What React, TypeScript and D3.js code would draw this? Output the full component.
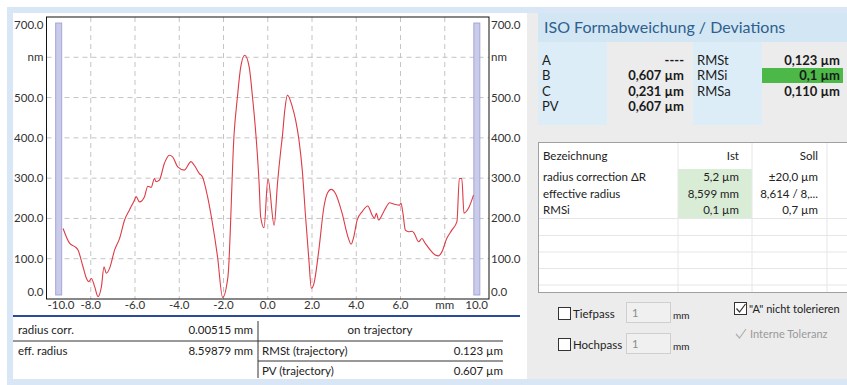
import { useEffect, useRef } from "react";
import * as d3 from "d3";

// profile of the measured form deviation (x in mm, deviation in nm)
const profileX = [
  -9.25, -8.95, -8.72, -8.58, -8.35, -8.2, -8.09, -7.97, -7.82, -7.67, -7.52, -7.4, -7.3, -7.15,
  -6.92, -6.7, -6.47, -6.25, -6.02, -5.95, -5.8, -5.57, -5.42, -5.27, -5.12, -5.05, -4.9, -4.67,
  -4.45, -4.3, -4.07, -3.77, -3.47, -3.32, -3.1, -2.95, -2.72, -2.5, -2.27, -2.04, -1.8, -1.52,
  -1.37, -1.22, -1.04, -0.84, -0.69, -0.54, -0.39, -0.32, -0.17, 0.01, 0.29, 0.44, 0.59, 0.66,
  0.77, 0.89, 1.11, 1.26, 1.41, 1.56, 1.71, 1.86, 1.97, 2.09, 2.31, 2.54, 2.69, 2.87, 3.06, 3.36,
  3.62, 3.77, 3.89, 4.04, 4.27, 4.52, 4.72, 4.82, 4.91, 5.01, 5.16, 5.32, 5.51, 5.69, 5.96, 6.02,
  6.11, 6.22, 6.37, 6.52, 6.62, 6.82, 6.97, 7.12, 7.34, 7.57, 7.72, 7.87, 8.09, 8.32, 8.55, 8.66,
  8.77, 8.87, 9.07, 9.3,
];
const profileNm = [
  175, 138, 130, 122, 80, 52, 43, 51, 30, 6, 30, 80, 64, 76,
  122, 150, 196, 221, 246, 254, 241, 254, 280, 277, 299, 291, 295, 337,
  357, 353, 328, 320, 341, 332, 312, 303, 254, 188, 105, 4, 55, 411,
  502, 576, 605, 576, 502, 411, 287, 204, 177, 299, 183, 287, 370, 403,
  469, 506, 477, 444, 395, 320, 204, 97, 27, 39, 122, 229, 262, 272, 262, 213,
  155, 136, 155, 196, 217, 231, 208, 200, 213, 196, 208, 225, 239, 236, 233, 238,
  213, 171, 167, 168, 163, 142, 150, 138, 122, 109, 107, 117, 150, 171, 192, 299,
  299, 213, 225, 258,
];

const xTicks = [-10, -8, -6, -4, -2, 0, 2, 4, 6, 8, 10];
const xTickLabels = ["-10.0", "-8.0", "-6.0", "-4.0", "-2.0", "0.0", "2.0", "4.0", "6.0", "mm", "10.0"];
const yTicks = [0, 100, 200, 300, 400, 500, 600, 700];
const yTickLabels = ["0.0", "100.0", "200.0", "300.0", "400.0", "500.0", "nm", "700.0"];

// evaluation range markers
const rangeMarkersX = [-9.45, 9.45];
const rangeMarkerNm = [10, 685];

const formLabels = ["A", "B", "C", "PV"];
const formValues = ["----", "0,607 µm", "0,231 µm", "0,607 µm"];
const rmsLabels = ["RMSt", "RMSi", "RMSa"];
const rmsValues = ["0,123 µm", "0,1 µm", "0,110 µm"];

const tableHeader = ["Bezeichnung", "Ist", "Soll"];
const tableNames = ["radius correction ΔR", "effective radius", "RMSi"];
const tableIst = ["5,2 µm", "8,599 mm", "0,1 µm"];
const tableSoll = ["±20,0 µm", "8,614 / 8,...", "0,7 µm"];

const resultLeft = [["radius corr.", "0.00515 mm"], ["eff. radius", "8.59879 mm"]];
const resultRight = [["RMSt (trajectory)", "0.123 µm"], ["PV (trajectory)", "0.607 µm"]];

const FONT = "Lato, 'Noto Sans', sans-serif";

function App() {
  const ref = useRef<SVGSVGElement | null>(null);

  useEffect(() => {
    drawChart();
  }, []);

  function drawChart() {
    const W = 847, H = 385;
    const plot = { left: 46.5, right: 489, top: 17, bottom: 299 };

    const svg = d3.select(ref.current);
    svg.selectAll("*").remove();
    svg.attr("width", W).attr("height", H).style("font-family", FONT);

    // frames / backgrounds
    svg.append("rect").attr("width", W).attr("height", H).attr("fill", "#ffffff");
    svg.append("rect").attr("x", 7).attr("y", 7).attr("width", W - 7).attr("height", H - 7).attr("fill", "#d9e6f5");
    svg.append("rect").attr("x", 13).attr("y", 13).attr("width", 514).attr("height", 366).attr("fill", "#ffffff");
    svg.append("rect").attr("x", 527).attr("y", 13).attr("width", W - 527).attr("height", 366).attr("fill", "#ececec");

    const x = d3.scaleLinear().domain([-10, 10]).range([plot.left, plot.right]);
    const y = d3.scaleLinear().domain([0, 700]).range([plot.bottom, plot.top]);

    const g = svg.append("g");

    // grid
    g.append("g")
      .selectAll("line")
      .data(xTicks.filter((d) => d > -10 && d < 10))
      .join("line")
      .attr("x1", (d) => x(d)).attr("x2", (d) => x(d))
      .attr("y1", plot.top).attr("y2", plot.bottom)
      .attr("stroke", "#c4c4c4").attr("stroke-dasharray", "5,4");
    g.append("g")
      .selectAll("line")
      .data(yTicks.filter((d) => d > 0 && d < 700))
      .join("line")
      .attr("x1", plot.left).attr("x2", plot.right)
      .attr("y1", (d) => y(d)).attr("y2", (d) => y(d))
      .attr("stroke", "#c4c4c4").attr("stroke-dasharray", "5,4");

    // range markers
    g.append("g")
      .selectAll("rect")
      .data(rangeMarkersX)
      .join("rect")
      .attr("x", (d) => x(d) - 3)
      .attr("width", 6)
      .attr("y", y(rangeMarkerNm[1]))
      .attr("height", y(rangeMarkerNm[0]) - y(rangeMarkerNm[1]))
      .attr("fill", "#c9cbe9").attr("stroke", "#a3a7d6");

    // profile line
    const pts: [number, number][] = profileX.map((d, i) => [d, profileNm[i]]);
    g.append("path")
      .datum(pts)
      .attr("fill", "none")
      .attr("stroke", "#dd3b46")
      .attr("stroke-width", 1.1)
      .attr("d", d3.line<[number, number]>().x((d) => x(d[0])).y((d) => y(d[1])).curve(d3.curveMonotoneX));

    // plot border
    g.append("rect")
      .attr("x", plot.left).attr("y", plot.top)
      .attr("width", plot.right - plot.left).attr("height", plot.bottom - plot.top)
      .attr("fill", "none").attr("stroke", "#111");

    // y labels, both sides
    const yLab = (d: number) => (d === 700 ? y(d) + 8 : d === 0 ? y(d) - 7 : y(d));
    [
      { xp: plot.left - 3, anchor: "end" },
      { xp: plot.right + 2, anchor: "start" },
    ].forEach((side) => {
      g.append("g")
        .selectAll("text")
        .data(yTicks)
        .join("text")
        .attr("x", side.xp)
        .attr("y", (d) => yLab(d))
        .attr("dy", "0.35em")
        .attr("text-anchor", side.anchor)
        .attr("font-size", 11.5)
        .attr("fill", "#333")
        .text((d, i) => yTickLabels[i]);
    });

    // x labels
    g.append("g")
      .selectAll("text")
      .data(xTicks)
      .join("text")
      .attr("x", (d) => (d === -10 ? x(d) + 1 : d === 10 ? x(d) - 1 : x(d)))
      .attr("y", plot.bottom + 10)
      .attr("text-anchor", (d) => (d === -10 ? "start" : d === 10 ? "end" : "middle"))
      .attr("font-size", 11.5)
      .attr("fill", "#333")
      .text((d, i) => xTickLabels[i]);

    // result table under the chart
    svg.append("line").attr("x1", 13).attr("x2", 520).attr("y1", 316).attr("y2", 316)
      .attr("stroke", "#2b4a9c").attr("stroke-width", 2);
    const res = svg.append("g").attr("font-size", 11.5).attr("fill", "#222");
    resultLeft.forEach((r, i) => {
      const yy = 334 + i * 21;
      res.append("text").attr("x", 18).attr("y", yy).text(r[0]);
      res.append("text").attr("x", 253).attr("y", yy).attr("text-anchor", "end").text(r[1]);
    });
    res.append("text").attr("x", 380).attr("y", 334).attr("text-anchor", "middle").text("on trajectory");
    resultRight.forEach((r, i) => {
      const yy = 355 + i * 20;
      res.append("text").attr("x", 262).attr("y", yy).text(r[0]);
      res.append("text").attr("x", 503).attr("y", yy).attr("text-anchor", "end").text(r[1]);
    });
    res.append("line").attr("x1", 13).attr("x2", 503).attr("y1", 341).attr("y2", 341).attr("stroke", "#333");
    res.append("line").attr("x1", 258).attr("x2", 503).attr("y1", 361).attr("y2", 361).attr("stroke", "#333");
    res.append("line").attr("x1", 258).attr("x2", 258).attr("y1", 321).attr("y2", 378).attr("stroke", "#333");

    // right panel: header
    const rp = svg.append("g");
    rp.append("rect").attr("x", 538).attr("y", 13).attr("width", W - 538).attr("height", 29).attr("fill", "#d3e6f3");
    rp.append("text").attr("x", 544).attr("y", 33).attr("font-size", 16).attr("fill", "#2e5f8e")
      .text("ISO Formabweichung / Deviations");
    rp.append("rect").attr("x", 538).attr("y", 42).attr("width", 69).attr("height", 83).attr("fill", "#dcedf8");
    rp.append("rect").attr("x", 693).attr("y", 42).attr("width", 69).attr("height", 83).attr("fill", "#dcedf8");
    rp.append("rect").attr("x", 762).attr("y", 68).attr("width", 81).attr("height", 15).attr("fill", "#4cb848");

    const rowY = (i: number) => 65 + i * 15.3;
    formLabels.forEach((l, i) => {
      rp.append("text").attr("x", 542).attr("y", rowY(i)).attr("font-size", 13).attr("fill", "#1a1a1a").text(l);
      rp.append("text").attr("x", 684).attr("y", rowY(i)).attr("font-size", 13).attr("font-weight", "bold")
        .attr("text-anchor", "end").attr("fill", "#1a1a1a").text(formValues[i]);
    });
    rmsLabels.forEach((l, i) => {
      rp.append("text").attr("x", 697).attr("y", rowY(i)).attr("font-size", 13).attr("fill", "#1a1a1a").text(l);
      rp.append("text").attr("x", 840).attr("y", rowY(i)).attr("font-size", 13).attr("font-weight", "bold")
        .attr("text-anchor", "end").attr("fill", "#1a1a1a").text(rmsValues[i]);
    });

    // tolerance table
    const tb = svg.append("g").attr("font-size", 11.5).attr("fill", "#222");
    tb.append("rect").attr("x", 538.5).attr("y", 142.5).attr("width", 330).attr("height", 150)
      .attr("fill", "#fff").attr("stroke", "#a0a0a0");
    tb.append("rect").attr("x", 678).attr("y", 169).attr("width", 74).attr("height", 50).attr("fill", "#d9edd6");
    [678, 752, 827].forEach((cx) => {
      tb.append("line").attr("x1", cx).attr("x2", cx).attr("y1", 143).attr("y2", 292).attr("stroke", "#e6e6e6");
    });
    [218.5, 235.5, 252, 268.5, 285].forEach((ry) => {
      tb.append("line").attr("x1", 539).attr("x2", W).attr("y1", ry).attr("y2", ry).attr("stroke", "#e6e6e6");
    });
    tb.append("text").attr("x", 543).attr("y", 160).text(tableHeader[0]);
    tb.append("text").attr("x", 739).attr("y", 160).attr("text-anchor", "end").text(tableHeader[1]);
    tb.append("text").attr("x", 818).attr("y", 160).attr("text-anchor", "end").text(tableHeader[2]);
    tableNames.forEach((n, i) => {
      const yy = 181 + i * 16.5;
      tb.append("text").attr("x", 543).attr("y", yy).text(n);
      tb.append("text").attr("x", 739).attr("y", yy).attr("text-anchor", "end").text(tableIst[i]);
      tb.append("text").attr("x", 818).attr("y", yy).attr("text-anchor", "end").text(tableSoll[i]);
    });

    // filter controls
    const ct = svg.append("g").attr("font-size", 11.5).attr("fill", "#222");
    [["Tiefpass", 307], ["Hochpass", 338]].forEach(([label, top]) => {
      const t = top as number;
      ct.append("rect").attr("x", 558.5).attr("y", t + 0.5).attr("width", 12).attr("height", 12)
        .attr("fill", "#fff").attr("stroke", "#333");
      ct.append("text").attr("x", 573).attr("y", t + 11).text(label as string);
      ct.append("rect").attr("x", 626.5).attr("y", t - 4.5).attr("width", 44).attr("height", 20)
        .attr("fill", "#f0f0f0").attr("stroke", "#cfcfcf");
      ct.append("text").attr("x", 632).attr("y", t + 10).attr("font-size", 11).attr("fill", "#8a8a8a").text("1");
      ct.append("text").attr("x", 673).attr("y", t + 12).attr("font-size", 10).text("mm");
    });
    ct.append("rect").attr("x", 734.5).attr("y", 302.5).attr("width", 12).attr("height", 12)
      .attr("fill", "#fff").attr("stroke", "#333");
    ct.append("path").attr("d", "M736.5,308.5 L739.5,312 L745.5,304").attr("fill", "none").attr("stroke", "#333").attr("stroke-width", 1.2);
    ct.append("text").attr("x", 749).attr("y", 313).attr("font-size", 11).text("\"A\" nicht tolerieren");
    ct.append("path").attr("d", "M736,334 L739.5,338 L746,329").attr("fill", "none").attr("stroke", "#b0b0b0").attr("stroke-width", 1.2);
    ct.append("text").attr("x", 750).attr("y", 338).attr("font-size", 11).attr("fill", "#9a9a9a").text("Interne Toleranz");
  }

  return (
    <div style={{ position: "absolute", left: 0, top: 0 }}>
      <svg ref={ref} />
    </div>
  );
}

export default App;
